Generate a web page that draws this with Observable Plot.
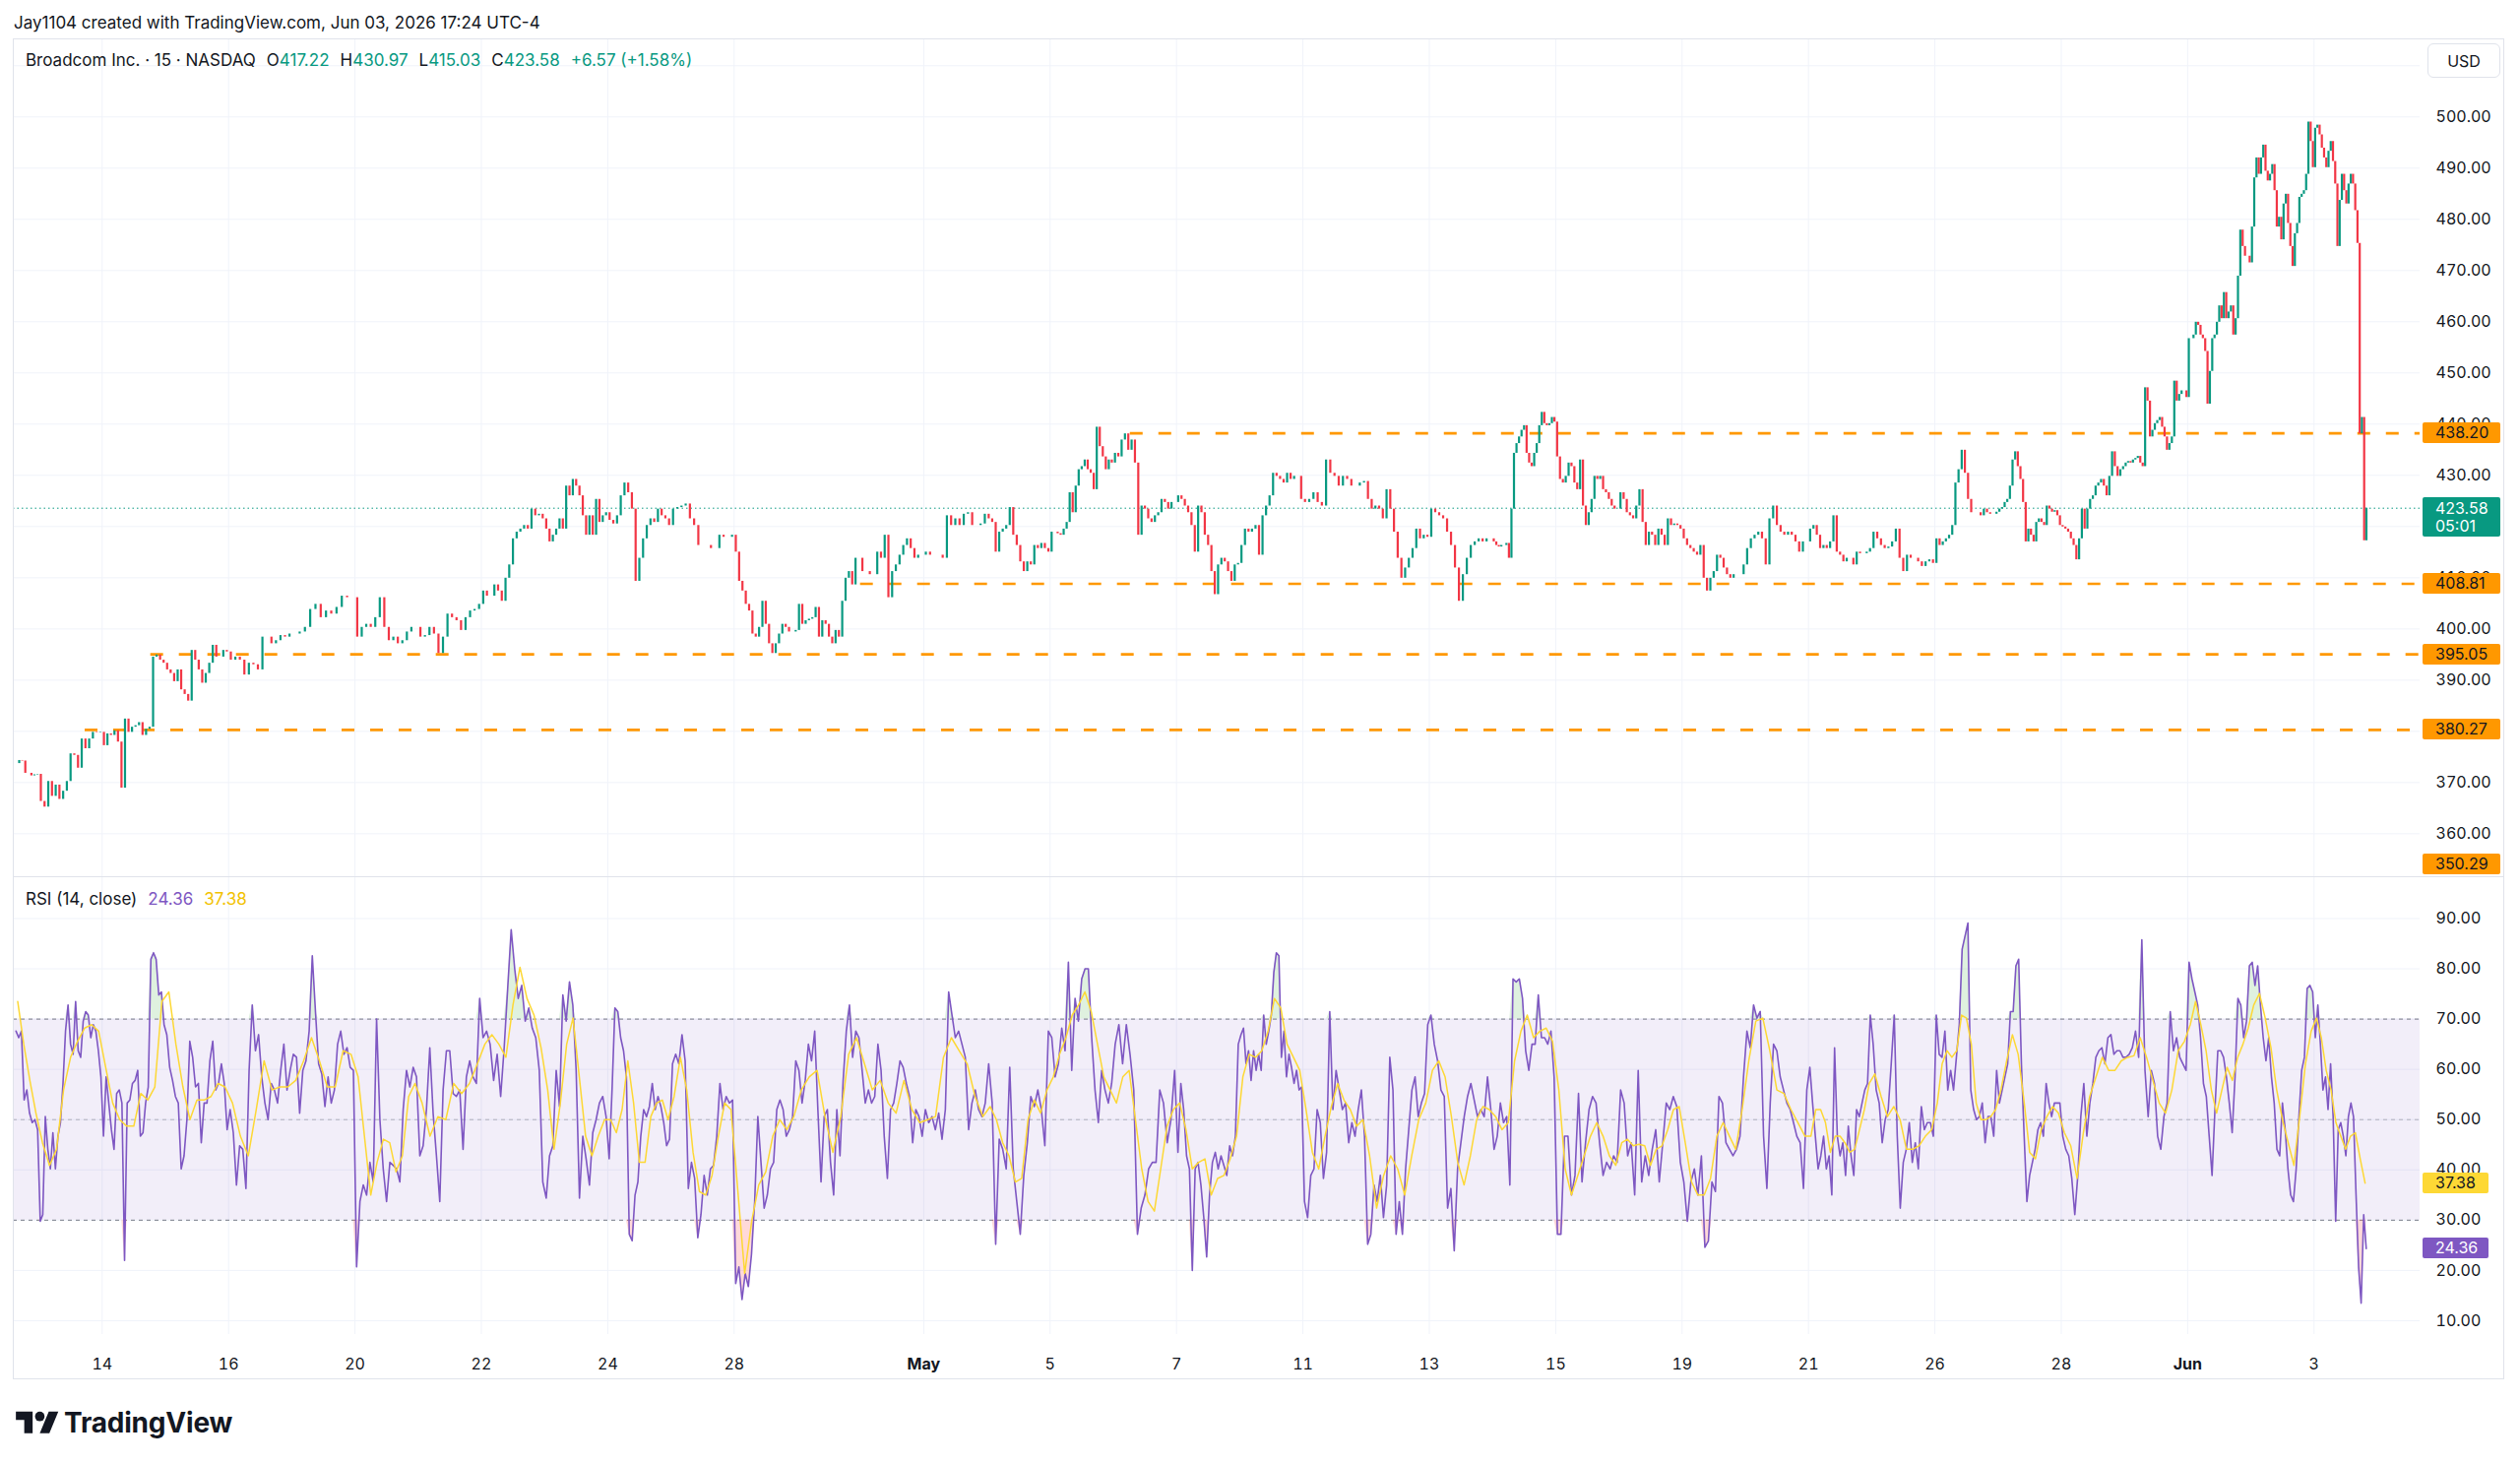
<!DOCTYPE html>
<html><head><meta charset="utf-8">
<script src="https://cdn.jsdelivr.net/npm/d3@7"></script>
<script src="https://cdn.jsdelivr.net/npm/@observablehq/plot@0.6"></script>
<style>
html,body{margin:0;padding:0;background:#fff;}
body{width:2560px;height:1487px;position:relative;overflow:hidden;font-family:Inter,"Noto Sans",sans-serif;color:#131722;}
.abs{position:absolute;white-space:nowrap;}
.frame{position:absolute;left:13px;top:39px;width:2531px;height:1362px;border:1px solid #e0e3eb;box-sizing:border-box;}
.box{position:absolute;left:2461px;height:21px;line-height:21px;font-size:16px;padding-left:13px;box-sizing:border-box;border-radius:2px;}
.up{color:#089981;}
.sp{margin-left:11px;}
</style></head><body>
<div id="root"></div>
<script>
// ---------------- DATA ----------------
const tradingDays = ["Apr 10","Apr 13","Apr 14","Apr 15","Apr 16","Apr 17","Apr 20","Apr 21","Apr 22","Apr 23","Apr 24","Apr 27","Apr 28","Apr 29","Apr 30","May 1","May 4","May 5","May 6","May 7","May 8","May 11","May 12","May 13","May 14","May 15","May 18","May 19","May 20","May 21","May 22","May 26","May 27","May 28","May 29","Jun 1","Jun 2","Jun 3"];
const barsPerDay = 26;
const firstDayStartBar = 16;   // chart opens partway through Apr 10
const lastDayEndBar = 22;      // Jun 3 session shown up to here

// 15-min closes, one row per trading day
const closes = [
[373.7,374.3,374.2,371.8,371.8,371.3,371.5,371.6],
[366.3,365.2,370.2,367.3,369.5,366.7,368.3,370.2,375.6,375.3,372.8,378.5,376.6,378.5,379.8,379.7,379.8],
[377.2,379.5,379.2,380.1,377.9,368.9,382.4,379.8,380.8,381.1,381.7,379.2,380.4,380.8,394.5,394.9,393.9,393.3],
[392.0,391.3,389.7,392.0,388.1,387.2,385.9,395.8,393.9,392.0,389.4,391.3,393.3,396.8,394.5,394.5,395.8,395.5],
[393.9,394.5,393.9,391.0,393.3,393.0,392.0,398.4,398.4,397.1,397.7,398.7,398.4,399.0],
[399.0,399.4,400.3,403.8,404.8,402.2,403.5,402.9,404.2,406.4,406.1,406.1],
[398.4,400.3,400.9,400.3,402.2,406.1,400.3,397.7,398.4,397.1,397.7,399.4,400.3,400.3],
[398.4,398.7,400.3,399.0,395.2,398.4,402.9,402.2,401.6,399.7,402.2,403.5,403.8,404.8],
[407.4,406.4,406.4,408.6,407.4,405.4,409.9,412.5,417.6,418.9,419.5,420.2,419.5,423.4,422.1,422.4,421.5],
[419.5,417.0,418.3,419.5,421.5,419.5,427.9,426.0,429.2,427.9,426.0,422.1,418.3,422.1,418.3,425.3,420.8,422.1,422.7],
[421.2,420.5,422.1,426.0,428.5,426.6,423.4,409.3,413.8,417.6,420.2,421.5,420.8,423.4,422.1,421.5,420.2],
[423.4,423.7,424.0,424.4,421.5,420.2,416.3,416.3,416.3,415.7,415.7,418.3,417.9,417.9,418.3],
[415.0,409.3,407.4,404.8,403.5,399.0,398.4,400.3,405.4,400.9,397.1,395.2,397.1,399.0,400.9,400.3,399.4,399.4,399.7],
[404.8,400.9,401.6,401.9,402.2,404.2,398.4,401.6,400.9,398.4,397.1,399.7,398.4,405.4,409.9,411.2,408.6,413.8,413.8],
[411.2,411.2,410.6,410.6,415.0,413.8,418.3,406.1,411.2,412.5,414.4,416.3,417.6,415.7,413.8,414.4,414.4],
[415.0,414.4,414.4,414.4,413.8,422.1,420.2,421.5,420.2,422.4,422.7,420.2,420.2,420.5,422.4],
[421.5,420.8,415.0,418.9,419.5,420.2,423.7,418.3,416.3,413.1,411.2,413.1,412.5,416.3,415.7,416.7,415.7,415.0],
[418.9,418.9,418.6,418.3,419.5,420.8,426.6,422.7,427.9,431.1,431.7,433.0,431.1,430.4,427.2,439.4,435.6,433.6,431.1,433.0,432.4],
[434.3,433.6,436.9,438.1,434.9,436.9,432.4,418.3,424.0,423.4,421.5,420.8,422.1,422.7,425.3,424.7,423.4,424.7,424.7],
[426.0,425.3,424.0,422.7,420.2,415.0,424.0,422.7,418.3,416.3,411.2,406.7,412.5,413.8,413.1,411.2,409.3,412.5,412.8],
[416.3,419.5,418.9,419.5,420.2,414.4,422.1,424.0,426.0,430.4,429.8,429.2,428.5,430.4,429.2,429.8,429.8,425.3],
[424.7,425.3,426.6,424.7,424.0,433.0,430.4,429.8,427.9,429.8,429.2,427.9,427.9,428.5,428.8],
[425.3,423.4,424.0,423.4,421.5,427.2,423.4,418.9,413.8,409.9,411.9,413.8,415.7,419.5,417.6,418.3,417.9],
[423.4,422.7,422.1,421.5,418.9,416.3,411.9,405.4,410.6,413.8,416.3,417.0,417.6,417.0,417.6,417.6],
[417.0,416.3,416.0,416.3,416.3,416.7,413.8,423.4,434.3,436.2,437.5,438.8,439.7,434.3,432.4,431.7,434.3,436.2,439.7,442.3,440.1,439.7,440.1,441.3,440.4],
[433.6,429.2,428.5,429.8,432.4,431.7,428.5,427.2,433.0,424.0,420.2,422.7,425.3,429.8,429.2,429.8,427.2,426.6,425.3,424.0,423.4,423.4],
[426.6,425.3,422.7,422.1,421.5,424.0,427.2,420.8,416.3,418.9,418.3,416.3,419.5,418.3,416.3,421.5,420.2,420.5,420.2,419.5],
[417.6,416.3,415.7,415.0,414.4,416.3,409.9,407.4,409.9,411.2,414.4,413.8,411.9,410.6,409.9,410.6,410.6,410.6,412.5],
[415.7,417.6,418.3,418.9,417.6,412.5,421.5,424.0,420.2,418.9,418.3,418.9,418.3,417.0,415.0,417.0,417.0],
[419.5,420.2,418.3,415.7,416.3,415.7,417.0,422.1,415.0,414.4,413.1,413.8,413.8,412.5,415.0,414.7,414.7,415.0,415.7],
[418.9,417.6,416.3,415.7,416.0,417.0,419.5,413.8,411.2,414.4,413.8,413.8,413.1,412.2,413.1,413.5,412.8],
[417.6,416.3,417.0,417.6,418.3,420.2,428.5,431.1,434.9,430.4,425.3,422.7,422.7,422.7,422.1,423.4,422.7,422.4,422.4,422.8],
[423.4,423.7,424.7,425.3,427.9,433.0,434.6,431.7,429.2,424.7,417.0,419.5,418.3,417.0,420.8,421.5,420.8,420.2,424.0,423.4,422.8,423.1,422.1,420.2],
[419.9,419.5,418.9,417.6,416.3,413.5,417.6,423.4,419.5,423.4,425.3,426.0,427.9,428.5,429.2,427.9,426.0,429.8,434.6,431.7,429.8,431.1,431.7],
[432.4,432.7,432.4,433.0,433.3,433.7,432.4,431.7,447.1,444.5,437.5,438.8,440.1,440.7,441.3,439.4,437.5,434.9,436.2,437.5,448.4,444.5,445.8,446.5,446.5,445.2],
[456.7,456.7,457.4,459.9,459.3,457.4,456.7,454.2,443.9,450.3,456.7,457.4,459.9,463.1,460.6,465.7,460.6,461.9,463.1,457.4,460.6,468.9,477.9,474.7,472.8,472.8,471.5],
[478.5,488.1,492.0,488.8,492.0,494.5,489.4,487.5,488.8,490.7,485.6,478.5,480.4,476.0,483.0,484.9,479.2,474.7,470.8,477.2,479.2,484.3,484.9,485.6,488.8,499.0,495.2,490.1],
[497.8,498.4,496.5,493.9,492.0,490.1,493.3,495.2,491.3,486.9,474.7,483.7,488.8,485.6,483.0,486.9,488.8,486.9,481.7,475.3,438.1,441.3,417.22,423.58]
];

const rsiValues = [
[67.6,66.3,67.6,53.9,55.9,51.3,49.4,50.0,48.0],
[29.8,31.1,50.6,44.1,40.2,47.4,40.2,46.7,49.4,57.2,67.6,72.8,65.0,63.0,73.5,63.7,62.4,69.6,71.5,70.8,66.3,68.9,67.6,63.7,58.5],
[46.7,58.5,53.3,48.0,44.1,55.2,55.9,53.3,22.0,53.3,53.9,57.2,57.8,59.8,46.7,47.4,53.3,56.5,81.9,83.2,81.9,74.8,75.4,68.9],
[66.9,60.4,57.8,54.6,53.3,40.2,42.8,50.0,65.6,62.4,56.5,57.2,45.4,53.3,53.3,61.7,65.6,55.9,57.2,61.1,57.2,48.0],
[52.0,47.4,37.0,44.8,44.1,36.3,59.8,72.8,63.7,66.9,58.5,53.3,50.0,57.2,55.9,53.3,59.8,65.0,55.9,59.8],
[63.0,62.4,51.3,59.8,61.7,67.6,82.6,71.5,61.1,59.1,52.6,58.5,53.3,55.9,65.0,67.6,63.0,64.3,60.4,59.8],
[20.7,33.7,37.0,35.0,41.5,37.6,70.0,50.0,40.2,33.7,41.5,40.9,40.2,37.6,52.0,59.8,56.5,60.4,58.5],
[42.8,44.8,52.0,64.3,51.3,42.8,33.7,55.9,63.7,63.7,55.2,54.6,55.9,44.1,58.5,61.7,58.5,57.2,74.1],
[66.3,67.6,65.0,57.8,63.0,54.6,64.3,76.1,87.8,80.0,74.1,76.7,69.6,72.2,68.2,66.3,59.8,37.6],
[34.4,42.8,44.8,59.8,52.6,74.8,69.6,77.4,72.8,59.8,34.4,46.7,42.2,37.0,47.4,50.0,53.3,54.6,50.6],
[42.2,55.9,72.2,71.5,66.3,63.7,58.5,27.2,25.9,35.0,37.6,46.7,52.0,50.6,52.6,57.2,52.0,54.6,52.6,49.4,44.8,46.1],
[61.1,63.0,61.1,66.9,61.7,36.3,41.5,38.3,26.5,31.1,38.9,35.0,40.2,40.9,46.7,57.2,52.0,54.6,53.3,53.9],
[17.4,20.7,14.2,19.4,16.8,23.3,33.7,50.6,41.5,32.4,35.0,40.2,41.5,52.0,53.9,52.0,46.7,48.0,50.6,61.7],
[59.8,53.3,57.8,65.0,61.7,67.6,52.0,37.6,50.6,52.0,41.5,35.0,52.0,42.8,57.8,67.6,72.8,62.4,67.6,66.3],
[59.8,53.3,55.9,53.3,54.6,65.0,59.8,46.7,38.3,52.0,53.3,57.2,61.7,60.4,57.2,54.6,45.4,52.0,50.6,46.7],
[52.0,49.4,50.6,48.0,51.3,46.1,52.0,75.4,70.8,66.3,67.6,65.0,62.4,48.0,53.3,55.9,52.0,50.6,53.3],
[61.1,53.3,25.2,46.1,44.1,40.2,60.4,40.2,33.7,27.2,38.9,45.4,54.6,52.6,55.9,52.0,44.8,67.6],
[66.3,58.5,61.1,68.2,63.7,81.3,59.8,74.1,69.6,78.0,80.0,80.0,66.3,55.9,49.4,59.8,55.9,53.3,57.2],
[65.0,68.9,61.1,68.9,63.0,55.9,27.2,32.4,35.0,40.2,41.5,41.5,55.9,53.3,45.4,50.0,59.8],
[43.5,57.2,52.0,42.8,40.2,20.0,40.2,41.5,37.0,30.5,22.7,35.0,41.5,43.5,40.2,42.8,40.9,38.9,44.8,42.8,46.7,65.0],
[66.9,68.2,61.1,63.7,57.8,63.7,59.8,63.0,59.8,70.8,65.0,67.6,70.8,79.3,83.2,82.6,62.4,67.6,58.5,63.0,60.4,57.2,59.8,55.9,56.5],
[33.7,30.5,38.9,40.2,52.0,49.4,38.3,43.5,71.5,52.0,59.8,55.9,52.0,53.3,45.4,49.4,46.7,52.0,55.9,46.7],
[25.2,27.2,37.0,33.7,38.9,30.5,37.0,62.4,55.9,27.2,33.7,27.2,40.2,48.0,55.9,58.5,50.6,53.3,55.2,68.9],
[70.8,65.0,61.7,55.9,54.6,32.4,36.3,23.9,40.2,45.4,50.6,54.6,57.2,53.9,50.6,52.0,50.6,58.5,52.0],
[44.1,46.7,53.3,49.4,50.6,37.0,78.0,77.4,78.0,74.1,63.7,59.8,65.0,65.0,74.8,66.3,66.3,65.0,67.6,58.5],
[27.2,27.2,46.7,46.7,35.0,38.9,55.2,37.6,45.4,52.0,54.6,53.3,45.4,38.9,41.5,40.2,42.8,41.5],
[55.9,53.3,42.8,45.4,35.0,59.8,37.6,42.8,38.9,44.1,48.0,37.6,45.4,53.3,52.0,54.6,52.6,41.5],
[37.6,29.8,37.6,40.2,35.0,42.8,24.6,25.9,37.6,35.7,54.6,53.3,45.4,44.1,42.8,44.1,46.7,58.5],
[67.6,64.3,72.8,70.2,71.5,46.7,36.3,53.3,65.0,63.7,58.5,55.9,53.3,52.0,49.4,46.7,45.4,36.3,55.9],
[60.4,53.3,46.7,40.2,42.8,46.7,40.2,42.8,35.0,64.3,46.7,42.8,45.4,38.9,48.7,42.8,38.9,52.0,50.6,53.3,55.9,57.2,70.8],
[65.0,55.9,53.3,45.4,50.0,52.0,61.1,70.8,46.7,32.4,41.5,44.1,49.4,41.5,45.4,40.2,52.6,48.0,49.4,49.4,46.7],
[70.8,63.0,62.4,67.6,55.9,59.8,55.9,62.4,68.9,83.9,86.5,89.1,55.9,52.0,50.0,50.6,53.3,45.4,50.6,50.6,46.7,59.8],
[53.3,55.9,58.5,61.1,71.5,71.5,80.6,81.9,61.1,46.7,33.7,38.9,41.5,44.1,48.0,49.4,46.7,57.2,53.3,50.6,53.3,53.3,53.3],
[46.7,44.1,42.8,38.3,31.1,38.9,50.6,57.2,46.7,53.3,57.2,62.4,63.7,64.3,61.1,66.3,66.9,63.0,63.7,63.7,62.4],
[62.4,63.0,64.3,67.6,62.4,85.8,59.8,50.6,59.8,57.2,46.7,44.1,50.6,53.3,71.5,63.7,66.3,62.4,61.1,59.8],
[81.3,78.0,75.4,72.8,66.3,57.2,54.6,46.7,38.9,52.0,63.7,63.7,62.4,58.5,53.3,47.4,58.5,74.1,72.8,66.3,69.6,80.6],
[81.3,76.7,80.6,72.8,66.3,61.7,66.3,58.5,53.3,44.1,42.8,53.3,48.0,40.2,35.0,33.7,40.2,50.6,59.8,62.4,76.1,76.7,75.4],
[66.3,72.8,65.0,55.9,58.5,52.0,61.1,50.6,29.8,48.0,49.4,46.7,42.8,50.6,53.3,50.6,35.0,20.7,13.5,31.1,24.36]
];

// RSI-based moving average (yellow)
const rsiMAValues = [
[73.5,65.0,57.8,51.3],
[45.4,40.9,44.1,55.9,62.4,65.6,68.2,68.9,67.6],
[60.4,53.3,50.0,48.7,48.7,55.2,53.9,56.5,73.5],
[75.4,65.0,56.5,50.0,53.9,53.9,54.6,57.2,56.5],
[53.3,46.7,42.8,52.0,61.7,55.9,56.5,56.5],
[57.8,61.7,66.3,61.7,56.5,56.5,63.7,63.0],
[58.5,46.7,35.0,41.5,46.1,45.4,39.6,42.8,54.6,57.2],
[53.3,46.7,50.6,50.0,57.2,55.2,57.2,61.1],
[65.0,66.9,65.0,62.4,72.8,80.3,74.1,70.8,64.3],
[55.9,44.1,53.3,65.0,70.2,58.5,46.7,42.8,46.7,50.0],
[50.0,47.4,52.0,61.7,53.3,41.5,41.5,50.6,53.3,53.9,50.0],
[54.6,62.4,55.9,43.5,35.7,35.0,38.9,46.7,53.3,52.0],
[36.3,19.4,29.8,37.0,39.6,46.7,50.0,48.0,50.6],
[55.9,58.5,59.8,50.6,43.5,50.6,63.0,66.3],
[61.1,55.9,57.8,53.3,51.3,57.8,52.0,49.4],
[50.0,50.6,62.4,66.3,63.7,61.1,54.6,50.6],
[52.6,50.0,45.4,42.8,37.6,38.3,50.0,53.9,51.3,55.9],
[58.5,63.0,66.3,70.8,72.8,75.4,71.5,65.0,58.5,55.9],
[53.3,58.5,59.8,50.0,40.2,33.7,31.8,40.2,48.7,52.0],
[53.3,48.0,40.2,41.5,42.2,35.0,38.3,38.9,42.2,46.7],
[58.5,63.0,62.4,63.7,67.6,74.1,72.2,65.0,62.4,59.8],
[52.0,43.5,40.2,46.7,52.6,57.2,53.9,52.0,48.7,50.0],
[42.8,32.4,38.9,42.8,40.2,35.0,42.8,50.0,53.3],
[59.8,61.7,58.5,50.6,41.5,37.0,42.8,50.0,52.6,52.0],
[50.6,48.0,49.4,61.7,67.6,70.8,66.3,67.6,68.2,65.6],
[55.9,40.2,35.0,38.9,42.8,46.7,49.4,46.7,42.8,40.9],
[45.4,46.1,44.8,45.1,44.8,40.9,44.1,44.8,48.0,52.0,52.6],
[45.4,37.6,35.0,35.0,38.3,46.7,49.4,46.7,44.1,52.0],
[61.7,69.6,70.2,63.7,55.9,55.2,52.0,49.4,46.7],
[46.7,52.0,52.0,49.4,43.5,46.7,46.7,45.4,43.5,44.1,48.0,52.0,57.2],
[59.1,54.6,50.6,52.6,50.0,44.1,44.1,44.8,46.7,48.0],
[53.3,61.1,63.7,62.4,63.7,70.8,70.2,65.0,53.3,50.0,50.0,50.6,52.0],
[55.9,61.7,66.9,63.0,53.9,43.5,42.2,48.0,50.6,52.6,51.3],
[47.4,44.8,38.3,47.4,54.6,58.5,62.4,59.8,59.8,61.7],
[62.4,62.7,66.3,62.4,57.8,53.3,51.3,55.9,63.7,65.6],
[68.9,73.5,68.9,63.7,55.9,51.3,55.9,60.4,57.8,62.4,65.0,68.2],
[72.8,75.1,70.2,64.3,55.9,50.0,45.4,40.9,50.6,61.1,67.6],
[70.2,66.3,59.8,55.9,49.4,46.7,44.1,46.7,47.4,42.2,37.38]
];

// horizontal price levels drawn on the chart: price, start day, start bar
const levelPrices = [438.20, 408.81, 395.05, 380.27, 350.29];
const levelStartDay = ["May 6", "Apr 30", "Apr 14", "Apr 13", "Apr 10"];
const levelStartBar = [7, 0, 20, 19, 16];

const lastPrice = 423.58;
const countdown = "05:01";
const lastRSI = 24.36, lastRSIMA = 37.38;

// price-scale labels (420.00 sits behind the last-price tag, so it is not printed)
const priceTicks = [360,370,380,390,400,410,430,440,450,460,470,480,490,500];
const priceGrid = [360,370,380,390,400,410,420,430,440,450,460,470,480,490,500,510];
const rsiTicks = [10,20,30,40,50,60,70,80,90];
const rsiLevels = [70, 50, 30];
const tickDates = ["Apr 14","Apr 16","Apr 20","Apr 22","Apr 24","Apr 28","May 1","May 5","May 7","May 11","May 13","May 15","May 19","May 21","May 26","May 28","Jun 1","Jun 3"];
const tickLabels = ["14","16","20","22","24","28","May","5","7","11","13","15","19","21","26","28","Jun","3"];

const legendName = "Broadcom Inc. · 15 · NASDAQ";
const legendKeys = ["O","H","L","C"];
const legendVals = ["417.22","430.97","415.03","423.58"];
const legendChange = "+6.57 (+1.58%)";

// ---------------- LAYOUT ----------------
const UP = "#089981", DOWN = "#f23645", ORANGE = "#ff9800", PURPLE = "#7e57c2", YELLOW = "#fdd835", GRID = "#f0f3fa";
const LEFT = 13, W = 2531, MR = 86;
const PRICE_TOP = 39, PRICE_H = 851, RSI_TOP = 890, RSI_H = 511, RSI_MB = 46;
const dayIdx = new Map(tradingDays.map((d, i) => [d, i]));
const xDomain = [0.5935, 38.678];

function spread(rows) {
  const out = [];
  rows.forEach((vals, d) => {
    const s = d === 0 ? firstDayStartBar : 0;
    const e = d === rows.length - 1 ? lastDayEndBar : barsPerDay;
    const n = vals.length;
    vals.forEach((v, i) => out.push({x: d + (s + (i + 0.5) * (e - s) / n) / barsPerDay, v}));
  });
  return out;
}
const pricePts = spread(closes);
const candles = pricePts.map((p, i) => ({x: p.x, open: i ? pricePts[i - 1].v : p.v, close: p.v}));
const rsiPts = spread(rsiValues);
const maPts = spread(rsiMAValues);
const levels = levelPrices.map((p, i) => ({price: p, start: dayIdx.get(levelStartDay[i]) + levelStartBar[i] / barsPerDay}));
const tickX = tickDates.map(d => dayIdx.get(d));
const labelOf = new Map(tickX.map((x, i) => [x, tickLabels[i]]));
const boldTicks = tickX.filter(x => /[A-Za-z]/.test(labelOf.get(x)));
const normTicks = tickX.filter(x => !/[A-Za-z]/.test(labelOf.get(x)));

const root = document.getElementById("root");
const styleBase = {fontFamily: "Inter, sans-serif", fontSize: "16px", color: "#131722", background: "transparent", overflow: "visible"};

const pricePlot = Plot.plot({
  width: W, height: PRICE_H, marginTop: 0, marginBottom: 0, marginLeft: 0, marginRight: MR,
  x: {domain: xDomain, axis: null},
  y: {domain: [351.6, 515.25], axis: null},
  style: styleBase,
  marks: [
    Plot.gridX(tickX, {stroke: GRID, strokeOpacity: 1}),
    Plot.gridY(priceGrid, {stroke: GRID, strokeOpacity: 1}),
    Plot.axisY(priceTicks, {anchor: "right", label: null, tickSize: 0, tickPadding: 16, tickFormat: d => d.toFixed(2)}),
    Plot.ruleY([lastPrice], {stroke: UP, strokeWidth: 1, strokeDasharray: "1.5,3"}),
    Plot.ruleY(levels.filter(l => l.price > 351.6), {y: "price", x1: "start", x2: () => xDomain[1], stroke: ORANGE, strokeWidth: 2.7, strokeDasharray: "13,16"}),
    Plot.ruleX(candles, {x: "x", y1: "open", y2: "close", stroke: d => d.close >= d.open ? UP : DOWN, strokeWidth: 2.2})
  ]
});
pricePlot.style.position = "absolute"; pricePlot.style.left = LEFT + "px"; pricePlot.style.top = PRICE_TOP + "px";
root.appendChild(pricePlot);

const rsiPlot = Plot.plot({
  width: W, height: RSI_H, marginTop: 0, marginBottom: RSI_MB, marginLeft: 0, marginRight: MR,
  x: {domain: xDomain, axis: null},
  y: {domain: [7.25, 98.32], axis: null},
  style: styleBase,
  marks: [
    Plot.gridX(tickX, {stroke: GRID, strokeOpacity: 1}),
    Plot.gridY(rsiTicks, {stroke: GRID, strokeOpacity: 1}),
    Plot.rect([rsiLevels], {x1: () => xDomain[0], x2: () => xDomain[1], y1: d => d[2], y2: d => d[0], fill: PURPLE, fillOpacity: 0.1}),
    Plot.ruleY([rsiLevels[0], rsiLevels[2]], {stroke: "#787b86", strokeWidth: 1, strokeDasharray: "4,4"}),
    Plot.ruleY([rsiLevels[1]], {stroke: "#787b86", strokeOpacity: 0.5, strokeWidth: 1, strokeDasharray: "4,4"}),
    Plot.areaY(rsiPts, {x: "x", y1: () => rsiLevels[0], y2: d => Math.max(d.v, rsiLevels[0]), fill: "#4caf50", fillOpacity: 0.18}),
    Plot.areaY(rsiPts, {x: "x", y1: d => Math.min(d.v, rsiLevels[2]), y2: () => rsiLevels[2], fill: "#ff5252", fillOpacity: 0.22}),
    Plot.line(rsiPts, {x: "x", y: "v", stroke: PURPLE, strokeWidth: 1.6}),
    Plot.line(maPts, {x: "x", y: "v", stroke: YELLOW, strokeWidth: 1.5}),
    Plot.axisY(rsiTicks, {anchor: "right", label: null, tickSize: 0, tickPadding: 16, tickFormat: d => d.toFixed(2)}),
    Plot.axisX(normTicks, {anchor: "bottom", label: null, tickSize: 0, tickPadding: 24, tickFormat: d => labelOf.get(d)}),
    Plot.axisX(boldTicks, {anchor: "bottom", label: null, tickSize: 0, tickPadding: 24, tickFormat: d => labelOf.get(d), fontWeight: "bold"})
  ]
});
rsiPlot.style.position = "absolute"; rsiPlot.style.left = LEFT + "px"; rsiPlot.style.top = RSI_TOP + "px";
root.appendChild(rsiPlot);

// ---------------- OVERLAYS ----------------
function div(cls, html, css) {
  const e = document.createElement("div");
  e.className = cls; e.innerHTML = html;
  Object.assign(e.style, css);
  root.appendChild(e);
  return e;
}
div("frame", "", {});
div("abs", "", {left: LEFT + "px", top: RSI_TOP + "px", width: W + "px", height: "1px", background: "#e0e3eb"});

div("abs", "Jay1104 created with TradingView.com, Jun 03, 2026 17:24 UTC-4", {left: "14px", top: "12px", fontSize: "17px", lineHeight: "22px"});
div("abs", legendName + legendKeys.map((k, i) => `<span class="sp">${k}<span class="up">${legendVals[i]}</span></span>`).join("") + `<span class="sp up">${legendChange}</span>`,
  {left: "26px", top: "50px", fontSize: "17px", lineHeight: "22px"});
div("abs", "USD", {left: "2466px", top: "44px", width: "74px", height: "35px", lineHeight: "35px", textAlign: "center", fontSize: "16px", border: "1px solid #e0e3eb", borderRadius: "6px", boxSizing: "border-box", background: "#fff"});

const py = v => pricePlot.scale("y").apply(v) + PRICE_TOP;
const ry = v => rsiPlot.scale("y").apply(v) + RSI_TOP;
levels.forEach(l => {
  const c = Math.min(py(l.price), RSI_TOP - 13);
  div("box", l.price.toFixed(2), {top: (c - 10.5) + "px", width: "79px", background: ORANGE, color: "#131722"});
});
const lp = py(lastPrice);
div("box", lastPrice.toFixed(2) + "<br>" + countdown, {top: (lp - 11) + "px", width: "79px", height: "40px", lineHeight: "18px", paddingTop: "2px", background: UP, color: "#fff"});
div("box", lastRSIMA.toFixed(2), {top: (ry(lastRSIMA) - 10.5) + "px", width: "67px", background: YELLOW, color: "#131722"});
div("box", lastRSI.toFixed(2), {top: (ry(lastRSI) - 10.5) + "px", width: "67px", background: PURPLE, color: "#fff"});

div("abs", `RSI (14, close)<span class="sp" style="color:${PURPLE}">${lastRSI.toFixed(2)}</span><span class="sp" style="color:#f2c200">${lastRSIMA.toFixed(2)}</span>`,
  {left: "26px", top: "902px", fontSize: "17px", lineHeight: "22px"});

// TradingView logo
div("abs", `<svg width="44" height="34" viewBox="0 0 36 28"><path d="M14 22H7V11H0V4h14v18zM28 22h-8l7.5-18h8L28 22z" fill="#131722"/><circle cx="20" cy="8" r="4" fill="#131722"/></svg>`,
  {left: "16px", top: "1429px"});
div("abs", "TradingView", {left: "65px", top: "1429px", fontSize: "28px", fontWeight: "700", lineHeight: "32px", letterSpacing: "-0.2px"});
</script>
</body></html>
